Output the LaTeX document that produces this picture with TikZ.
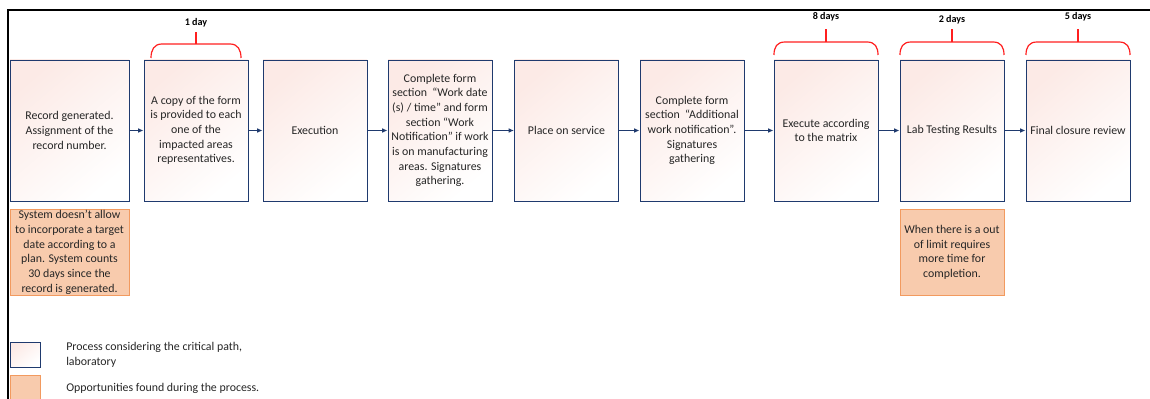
\documentclass[tikz,border=0pt]{standalone}
\usepackage{fontspec}
\setmainfont{Carlito}
\usetikzlibrary{arrows.meta}
\definecolor{navy}{HTML}{1F3A6E}
\definecolor{blush}{HTML}{FCEAE6}
\definecolor{peach}{HTML}{F8CBAD}
\definecolor{peachline}{HTML}{F29A5F}
\definecolor{bracered}{HTML}{FF1F1F}
\tikzset{step box/.style={draw=navy, line width=0.7pt, shading=axis, top color=blush, middle color=white, bottom color=white, shading angle=40, minimum width=78pt, minimum height=105.75pt, align=center, inner sep=1pt, text=black!85, font=\fontsize{8.9}{11}\selectfont},
opp box/.style={draw=peachline, line width=0.7pt, fill=peach, minimum width=78pt, minimum height=65pt, align=center, inner sep=1pt, text=black!85, font=\fontsize{8.9}{11}\selectfont},
flow/.style={draw=navy, line width=0.8pt, -{Latex[length=4pt,width=3.5pt]}},
day brace/.style={draw=bracered, line width=0.9pt},
day label/.style={font=\fontsize{7.6}{8}\selectfont\bfseries, text=black},
legend text/.style={anchor=west, align=left, inner sep=0pt, text=black!85, font=\fontsize{8.9}{11}\selectfont},}

\begin{document}
\begin{tikzpicture}[x=0.75pt,y=-0.75pt]
\useasboundingbox (0,0) rectangle (1150,399);
\draw[line width=1.6pt] (8,400) -- (8,10) -- (1150,10);
% process steps
\node [step box,minimum width=89.25pt] (rec) at ( 69.5,130.5) {Record generated.\\Assignment of the\\record number.};
\node [step box] (copy) at (196,130.5) {A copy of the form\\is provided to each\\one of the\\impacted areas\\representatives.};
\node [step box] (exec) at (315,130.5) {Execution};
\node [step box] (form) at (440,130.5) {Complete form\\section \ “Work date\\(s) / time” and form\\section “Work\\Notification” if work\\is on manufacturing\\areas. Signatures\\gathering.};
\node [step box] (place) at (566.5,130.5) {Place on service};
\node [step box] (addl) at (692,130.5) {Complete form\\section \ “Additional\\work notification”.\\Signatures\\gathering};
\node [step box] (matrix) at (826,130.5) {Execute according\\to the matrix};
\node [step box] (lab) at (952,130.5) {Lab Testing Results};
\node [step box] (closure) at (1078,130.5) {Final closure review};
% arrows
\draw [flow] (rec) -- (copy);
\draw [flow] (copy) -- (exec);
\draw [flow] (exec) -- (form);
\draw [flow] (form) -- (place);
\draw [flow] (place) -- (addl);
\draw [flow] (addl) -- (matrix);
\draw [flow] (matrix) -- (lab);
\draw [flow] (lab) -- (closure);
% opportunities
\node [opp box,minimum width=89.25pt] (opp1) at ( 69.5,252.5) {System doesn’t allow\\to incorporate a target\\date according to a\\plan. System counts\\30 days since the\\record is generated.};
\node [opp box] (opp2) at (952,252.5) {When there is a out\\of limit requires\\more time for\\completion.};
% durations
\draw [day brace] (151,58) .. controls (151,50) and (154,44) .. (162,44) -- (230,44) .. controls (238,44) and (241,50) .. (241,58);
\draw [day brace] (196,44) -- (196,32);
\node [day label] (d1) at (196,23) {1 day};
\draw [day brace] (774,55) .. controls (774,47) and (777,42) .. (785,42) -- (867,42) .. controls (875,42) and (878,47) .. (878,55);
\draw [day brace] (826,42) -- (826,29);
\node [day label] (d8) at (826,17) {8 days};
\draw [day brace] (900,55) .. controls (900,47) and (903,42) .. (911,42) -- (993,42) .. controls (1001,42) and (1004,47) .. (1004,55);
\draw [day brace] (952,42) -- (952,29);
\node [day label] (d2) at (952,20) {2 days};
\draw [day brace] (1026,55) .. controls (1026,47) and (1029,42) .. (1037,42) -- (1119,42) .. controls (1127,42) and (1130,47) .. (1130,55);
\draw [day brace] (1078,42) -- (1078,29);
\node [day label] (d5) at (1078,17) {5 days};
% legend
\node [step box,minimum width=22.5pt,minimum height=18.75pt] (keyproc) at (25,354.5) {};
\node [opp box,minimum width=22.5pt,minimum height=18.75pt] (keyopp) at (25,387.5) {};
\node [legend text] (keyproctext) at (66,355) {Process considering the critical path,\\laboratory};
\node [legend text] (keyopptext) at (66,388) {Opportunities found during the process.};
\end{tikzpicture}
\end{document}
